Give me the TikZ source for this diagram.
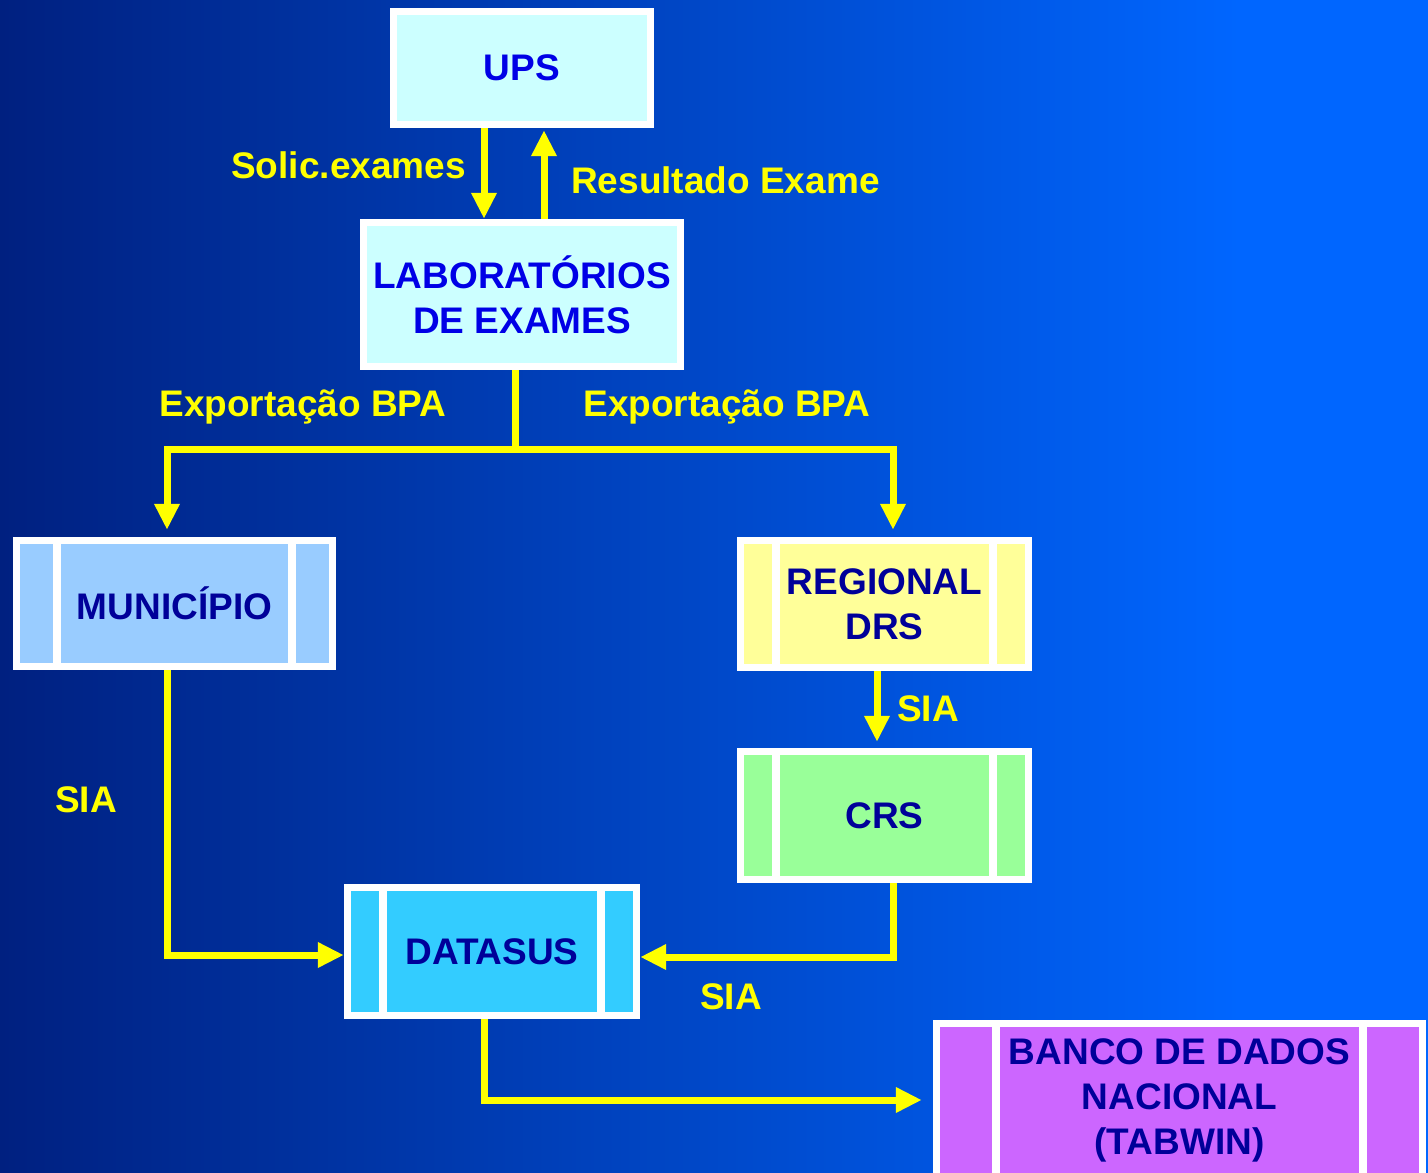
\documentclass[tikz,border=0pt]{standalone}
\usepackage{fontspec}
\setmainfont{Liberation Sans}
\usetikzlibrary{arrows.meta,calc}
\definecolor{bgL}{RGB}{0,32,128}
\definecolor{bgR}{RGB}{0,102,255}
\definecolor{ylw}{RGB}{255,255,0}
\definecolor{cyanbox}{RGB}{204,255,255}
\definecolor{munbox}{RGB}{153,204,255}
\definecolor{regbox}{RGB}{255,255,153}
\definecolor{crsbox}{RGB}{153,255,153}
\definecolor{datbox}{RGB}{51,204,255}
\definecolor{banbox}{RGB}{204,102,255}
\definecolor{txtblue}{RGB}{0,0,230}
\definecolor{txtnavy}{RGB}{0,0,153}
\tikzset{
  bigfont/.style={font=\fontsize{37}{45}\selectfont\bfseries},
  plainbox/.style={fill=white, inner sep=0pt, align=center, bigfont, text=txtblue,
    path picture={\fill[#1] ([shift={(7pt,-7pt)}]path picture bounding box.north west) rectangle ([shift={(-7pt,7pt)}]path picture bounding box.south east);}},
  barbox/.style 2 args={fill=white, inner sep=0pt, align=center, bigfont, text=txtnavy,
    path picture={
      \fill[#1] ([shift={(7pt,-7pt)}]path picture bounding box.north west) rectangle ([shift={(-7pt,7pt)}]path picture bounding box.south east);
      \fill[white] ([xshift=7pt+#2]path picture bounding box.north west) rectangle ([xshift=15pt+#2]path picture bounding box.south west);
      \fill[white] ([xshift=-7pt-#2]path picture bounding box.north east) rectangle ([xshift=-15pt-#2]path picture bounding box.south east);
    }},
  yarrow/.style={draw=ylw, line width=7pt, -{Triangle[width=24pt,length=26pt]}},
  yline/.style={draw=ylw, line width=7pt},
  lbl/.style={text=ylw, bigfont, inner sep=0pt},
}
\begin{document}
\begin{tikzpicture}[x=1pt,y=-1pt]
\useasboundingbox (0,0) rectangle (1428,1173);
\clip (0,0) rectangle (1428,1173);
\shade[left color=bgL, right color=bgR] (0,0) rectangle (1240,1173);
\fill[bgR] (1239,0) rectangle (1428,1173);

% boxes
\node[plainbox=cyanbox, minimum width=264pt, minimum height=120pt] (ups) at (522,68) {UPS};
\node[plainbox=cyanbox, minimum width=324pt, minimum height=151pt] (lab) at (522,294.5) {LABORATÓRIOS\\DE EXAMES};
\node[barbox={munbox}{33pt}, minimum width=323pt, minimum height=133pt] (mun) at (174.5,603.5) {MUNICÍPIO};
\node[barbox={regbox}{28pt}, minimum width=295pt, minimum height=134pt] (reg) at (884.5,604) {REGIONAL\\DRS};
\node[barbox={crsbox}{28pt}, minimum width=295pt, minimum height=135pt] (crs) at (884.5,815.5) {CRS};
\node[barbox={datbox}{28pt}, minimum width=296pt, minimum height=135pt] (dat) at (492,951.5) {DATASUS};
\node[barbox={banbox}{52pt}, minimum width=493pt, minimum height=160pt] (ban) at (1179.5,1100) {BANCO DE DADOS\\NACIONAL\\(TABWIN)};

% connectors
\draw[yarrow] ([xshift=-38pt]ups.south) -- ([xshift=-38pt]lab.north);
\draw[yarrow] ([xshift=22pt]lab.north) -- ([xshift=22pt,yshift=-2pt]ups.south);
\coordinate (j) at (515,449);
\draw[yline] (lab.south -| j) -- (j);
\draw[yarrow, shorten >=7pt] (j) -| ([xshift=-7.5pt]mun.north);
\draw[yarrow, shorten >=7pt] (j) -| ([xshift=8.5pt]reg.north);
\draw[yarrow, shorten >=6pt] ([xshift=-7.5pt]reg.south) -- ([xshift=-7.5pt]crs.north);
\draw[yarrow] ([xshift=-7.5pt]mun.south) |- ([yshift=-3.5pt]dat.west);
\draw[yarrow] ([xshift=8.5pt]crs.south) |- ([yshift=-5.5pt]dat.east);
\draw[yarrow, shorten >=11pt] ([xshift=-8pt]dat.south) |- (ban.west);

% labels
\node[lbl, anchor=east] (l1) at (466,165) {Solic.exames};
\node[lbl, anchor=west] (l2) at (571,180) {Resultado Exame};
\node[lbl] (l3) at (303,407) {Exportação BPA};
\node[lbl] (l4) at (727,407) {Exportação BPA};
\node[lbl] (l5) at (928,709) {SIA};
\node[lbl] (l6) at (86,800) {SIA};
\node[lbl] (l7) at (731,997) {SIA};
\end{tikzpicture}
\end{document}
